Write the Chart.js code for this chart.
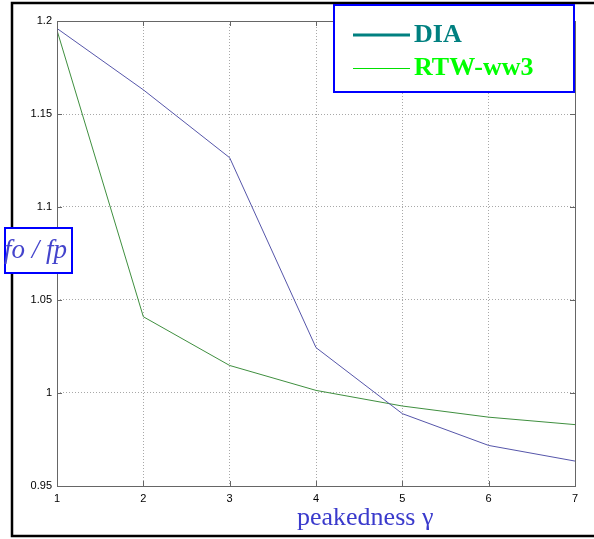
<!DOCTYPE html>
<html><head><meta charset="utf-8">
<script src="https://cdn.jsdelivr.net/npm/chart.js@4/dist/chart.umd.min.js"></script>
<style>html,body{margin:0;padding:0;background:#fff}#wrap{width:594px;height:539px;position:relative}</style>
</head><body><div id="wrap"><canvas id="c" width="594" height="539"></canvas></div>
<script>
const gammaValues = [1, 2, 3, 4, 5, 6, 7];
const diaValues = [1.196, 1.163, 1.1265, 1.0244, 0.9889, 0.9718, 0.9634];
const rtwValues = [1.195, 1.041, 1.0148, 1.0014, 0.993, 0.987, 0.983];
const yTicks = [0.95, 1, 1.05, 1.1, 1.15, 1.2];
const seriesNames = ['DIA', 'RTW-ww3'];
const xTitle = 'peakedness \u03b3';
const yTitle = 'fo / fp';

const decor = {
  id: 'decor',
  beforeDraw(chart) {
    const ctx = chart.ctx;
    ctx.save();
    ctx.fillStyle = '#fff';
    ctx.fillRect(0, 0, chart.width, chart.height);
    ctx.restore();
  },
  afterDraw(chart) {
    const ctx = chart.ctx, a = chart.chartArea;
    const xs = chart.scales.x, ys = chart.scales.y;
    ctx.save();
    ctx.strokeStyle = '#666';
    ctx.lineWidth = 1;
    ctx.strokeRect(Math.round(a.left) + 0.5, Math.round(a.top) + 0.5, Math.round(a.right - a.left), Math.round(a.bottom - a.top));
    ctx.beginPath();
    gammaValues.forEach(v => {
      const x = Math.round(xs.getPixelForValue(v)) + 0.5;
      ctx.moveTo(x, a.bottom); ctx.lineTo(x, a.bottom - 5);
      ctx.moveTo(x, a.top); ctx.lineTo(x, a.top + 5);
    });
    yTicks.forEach(v => {
      const y = Math.round(ys.getPixelForValue(v)) + 0.5;
      ctx.moveTo(a.left, y); ctx.lineTo(a.left + 5, y);
      ctx.moveTo(a.right, y); ctx.lineTo(a.right - 5, y);
    });
    ctx.stroke();
    ctx.strokeStyle = '#000';
    ctx.lineWidth = 2.5;
    ctx.strokeRect(12, 3, 600, 533);
    ctx.fillStyle = '#fff';
    ctx.fillRect(334, 5, 240, 87);
    ctx.strokeStyle = '#0000ff';
    ctx.lineWidth = 2;
    ctx.strokeRect(334, 5, 240, 87);
    ctx.lineWidth = 3;
    ctx.strokeStyle = '#008080';
    ctx.beginPath(); ctx.moveTo(353, 35); ctx.lineTo(410, 35); ctx.stroke();
    ctx.lineWidth = 1;
    ctx.strokeStyle = '#00e000';
    ctx.beginPath(); ctx.moveTo(353, 68.5); ctx.lineTo(410, 68.5); ctx.stroke();
    ctx.font = 'bold 26px "Liberation Serif", "Times New Roman", serif';
    ctx.textBaseline = 'alphabetic';
    ctx.textAlign = 'left';
    ctx.fillStyle = '#008080';
    ctx.fillText(seriesNames[0], 414, 42);
    ctx.fillStyle = '#00ff00';
    ctx.fillText(seriesNames[1], 414, 75);
    ctx.fillStyle = '#fff';
    ctx.fillRect(5, 228, 67, 45);
    ctx.strokeStyle = '#0000ff';
    ctx.lineWidth = 2;
    ctx.strokeRect(5, 228, 67, 45);
    ctx.font = 'italic 27px "Liberation Serif", "Times New Roman", serif';
    ctx.fillStyle = '#4444cc';
    ctx.fillText(yTitle, 4, 258);
    ctx.font = '26px "Liberation Serif", "Times New Roman", serif';
    ctx.fillStyle = '#3a3acc';
    ctx.fillText(xTitle, 297, 525);
    ctx.restore();
  }
};

new Chart(document.getElementById('c'), {
  type: 'line',
  data: {
    datasets: [
      { label: seriesNames[0], data: gammaValues.map((g, i) => ({x: g, y: diaValues[i]})), borderColor: '#5656aa', borderWidth: 1, pointRadius: 0, tension: 0, fill: false },
      { label: seriesNames[1], data: gammaValues.map((g, i) => ({x: g, y: rtwValues[i]})), borderColor: '#3f8f3f', borderWidth: 1, pointRadius: 0, tension: 0, fill: false }
    ]
  },
  options: {
    responsive: false,
    animation: false,
    devicePixelRatio: 1,
    layout: { padding: { top: 21, right: 19, left: 0, bottom: 0 } },
    plugins: { legend: { display: false }, tooltip: { enabled: false } },
    scales: {
      x: {
        type: 'linear', min: 1, max: 7,
        afterBuildTicks: s => { s.ticks = gammaValues.map(v => ({value: v})); },
        afterFit: s => { s.height = 53; },
        ticks: { color: '#000', font: { family: 'Arial, "Liberation Sans", sans-serif', size: 11 }, padding: 6, maxRotation: 0, callback: v => String(v) },
        grid: { color: '#a8a8a8', lineWidth: 1, drawTicks: false, tickLength: 0 },
        border: { display: false, dash: [1, 2] }
      },
      y: {
        type: 'linear', min: 0.95, max: 1.2,
        afterBuildTicks: s => { s.ticks = yTicks.map(v => ({value: v})); },
        afterFit: s => { s.width = 57; },
        ticks: { color: '#000', font: { family: 'Arial, "Liberation Sans", sans-serif', size: 11 }, padding: 5, callback: v => String(Math.round(v * 100) / 100) },
        grid: { color: '#a8a8a8', lineWidth: 1, drawTicks: false, tickLength: 0 },
        border: { display: false, dash: [1, 2] }
      }
    }
  },
  plugins: [decor]
});
</script></body></html>
